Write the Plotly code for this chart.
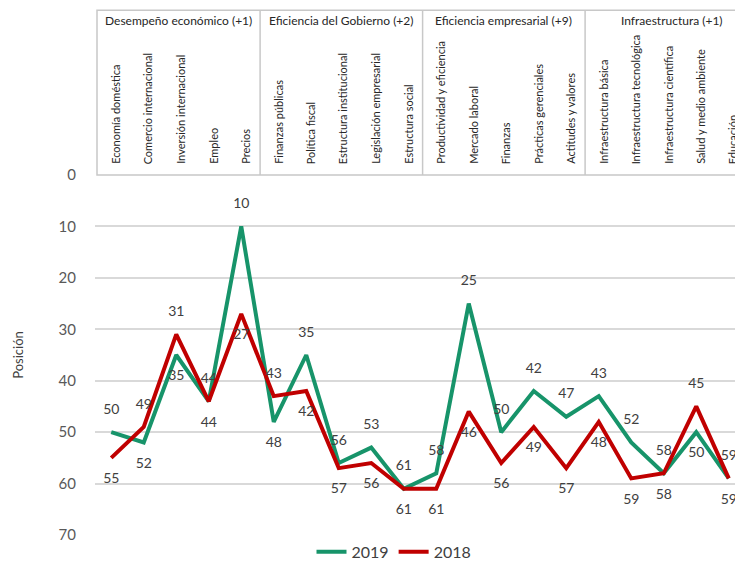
import plotly.graph_objects as go

categories = ["Economía doméstica", "Comercio internacional", "Inversión internacional", "Empleo", "Precios",
              "Finanzas públicas", "Política fiscal", "Estructura institucional", "Legislación empresarial", "Estructura social",
              "Productividad y eficiencia", "Mercado laboral", "Finanzas", "Prácticas gerenciales", "Actitudes y valores",
              "Infraestructura básica", "Infraestructura tecnológica", "Infraestructura científica", "Salud y medio ambiente", "Educación"]
groups = ["Desempeño económico (+1)", "Eficiencia del Gobierno (+2)", "Eficiencia empresarial (+9)", "Infraestructura (+1)"]
values_2019 = [50, 52, 35, 44, 10, 48, 35, 56, 53, 61, 58, 25, 50, 42, 47, 43, 52, 58, 50, 59]
values_2018 = [55, 49, 31, 44, 27, 43, 42, 57, 56, 61, 61, 46, 56, 49, 57, 48, 59, 58, 45, 59]
pos_2019 = ["top center", "bottom center", "bottom center", "top center", "top center", "bottom center", "top center",
            "top center", "top center", "top center", "top center", "top center", "top center", "top center",
            "top center", "top center", "top center", "top center", "bottom center", "top center"]
pos_2018 = ["bottom center", "top center", "top center", "bottom center", "bottom center", "top center", "bottom center",
            "bottom center", "bottom center", "bottom center", "bottom center", "bottom center", "bottom center",
            "bottom center", "bottom center", "bottom center", "bottom center", "bottom center", "top center",
            "bottom center"]

GREEN = "#17946a"
RED = "#c00000"
FONT = "Lato"
W, H = 735, 569
ML, MT, MB = 95, 175, 29
PW = W - ML
PH = H - MT - MB
n = len(categories)
xs = list(range(n))

fig = go.Figure()
for name, vals, pos, col in [("2019", values_2019, pos_2019, GREEN), ("2018", values_2018, pos_2018, RED)]:
    fig.add_trace(go.Scatter(x=xs, y=vals, name=name, mode="lines+markers+text",
                             line=dict(color=col, width=4),
                             marker=dict(size=22, color="rgba(0,0,0,0)", line=dict(width=0)),
                             text=[str(v) for v in vals],
                             textposition=pos, textfont=dict(size=14, color="#404040", family=FONT),
                             cliponaxis=False))

step = 32.5
xmax = -0.5 + PW / step

def py(px):
    return (H - MB - px) / PH

def pxp(px):
    return (px - ML) / PW

shapes = []
annotations = []
top_px, bot_px = 8, 175
shapes.append(dict(type="rect", xref="paper", yref="paper", x0=pxp(97), x1=pxp(760), y0=py(bot_px), y1=py(top_px),
                   line=dict(color="#c8c8c8", width=1.5), fillcolor="rgba(0,0,0,0)", layer="above"))
for b in [4.58, 9.58, 14.58]:
    shapes.append(dict(type="line", xref="x", yref="paper", x0=b, x1=b, y0=py(bot_px), y1=py(top_px),
                       line=dict(color="#c8c8c8", width=1.5)))
bounds = [-0.45, 4.58, 9.58, 14.58, 19.9]
for i, g in enumerate(groups):
    annotations.append(dict(x=(bounds[i] + bounds[i + 1]) / 2, xref="x", y=py(18), yref="paper", text=g,
                            showarrow=False, font=dict(size=12, color="#262626", family=FONT),
                            xanchor="center", yanchor="middle"))
for i, c in enumerate(categories):
    annotations.append(dict(x=i, xref="x", y=py(166), yref="paper", text=c, textangle=-90, xshift=4,
                            showarrow=False, font=dict(size=11, color="#262626", family=FONT),
                            xanchor="center", yanchor="bottom"))

fig.update_layout(
    width=W, height=H,
    margin=dict(l=ML, r=0, t=MT, b=MB),
    plot_bgcolor="white", paper_bgcolor="white",
    showlegend=True,
    legend=dict(orientation="h", x=pxp(394), xanchor="center", y=py(557), yanchor="middle",
                font=dict(size=16, color="#404040", family=FONT)),
    xaxis=dict(range=[-0.5, xmax], showticklabels=False, showgrid=False, zeroline=False,
               showline=False, ticks=""),
    yaxis=dict(range=[70, 0], tickvals=[0, 10, 20, 30, 40, 50, 60, 70], showgrid=True,
               gridcolor="#d9d9d9", gridwidth=1.5, zeroline=False, showline=False,
               ticks="outside", ticklen=15, tickcolor="white",
               tickfont=dict(size=15, color="#595959", family=FONT),
               title=dict(text="Posición", font=dict(size=13, color="#404040", family=FONT), standoff=32)),
    shapes=shapes, annotations=annotations,
)

fig.write_html("out.html")
